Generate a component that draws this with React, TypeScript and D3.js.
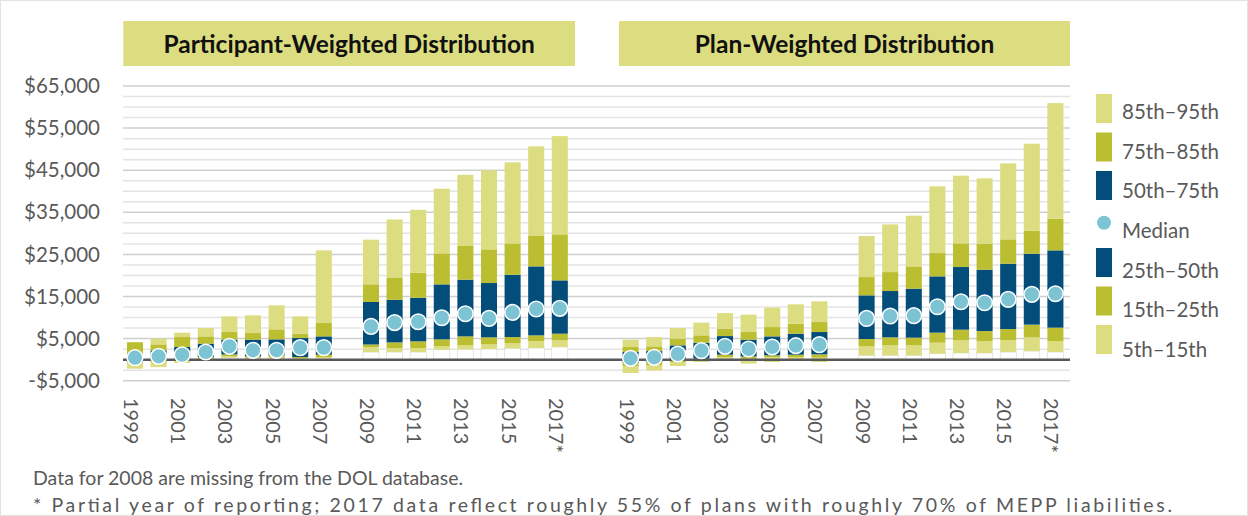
import React from 'react';
import * as d3 from 'd3';

// years shown in each panel (2008 is missing from the DOL database)
const years = ['1999', '2000', '2001', '2002', '2003', '2004', '2005', '2006', '2007', '2008',
  '2009', '2010', '2011', '2012', '2013', '2014', '2015', '2016', '2017'];
const tickYears = ['1999', '2001', '2003', '2005', '2007', '2009', '2011', '2013', '2015', '2017'];

// Participant-weighted percentiles (null = no data)
const partP5 = [-2140, -1760, -800, -50, 470, 240, 240, 140, 300, null, 1800, 1800, 1800, 2370, 2450, 2520, 2680, 2760, 3000];
const partP15 = [-650, -570, -300, 240, 780, 470, 470, 380, 620, null, 3000, 2760, 2760, 3230, 3400, 3630, 3950, 4420, 4580];
const partP25 = [-500, -300, 0, 620, 1260, 780, 1020, 620, 1180, null, 3600, 4100, 4350, 4820, 5530, 5300, 5370, 5770, 6170];
const partP50 = [470, 780, 1180, 1810, 3160, 2210, 2210, 2850, 2850, null, 7900, 8800, 9000, 9950, 10900, 9800, 11230, 12020, 12180];
const partP75 = [1420, 2210, 3000, 3800, 4750, 4750, 4820, 5130, 5530, null, 13700, 14200, 14700, 17880, 19000, 18200, 20170, 22150, 18830];
const partP85 = [4150, 3630, 5370, 5530, 6560, 6320, 7200, 6170, 8700, null, 17900, 19400, 20650, 25250, 27000, 26200, 27600, 29500, 29760];
const partP95 = [4200, 4990, 6410, 7510, 10280, 10520, 12900, 10280, 25960, null, 28500, 33300, 35600, 40600, 43900, 44960, 46860, 50660, 53100];

// Plan-weighted percentiles
const planP5 = [-3180, -2540, -1520, -570, 240, -950, -570, -330, -570, null, 1020, 1020, 1020, 1420, 1580, 1580, 1810, 2040, 1810];
const planP15 = [-1590, -1350, -570, -170, 620, 240, 620, 620, 470, null, 3160, 3400, 3400, 4030, 4580, 4430, 4660, 5300, 4430];
const planP25 = [-800, -570, -170, 240, 1180, 780, 1020, 1180, 1260, null, 4900, 5300, 5220, 6410, 7120, 6800, 7270, 8310, 7600];
const planP50 = [300, 550, 1330, 2140, 3160, 2520, 3000, 3320, 3560, null, 9800, 10360, 10450, 12580, 13770, 13530, 14320, 15510, 15670];
const planP75 = [1810, 2040, 3400, 4030, 5600, 4750, 5530, 6170, 6560, null, 15270, 16300, 16860, 19780, 22000, 21370, 22800, 25170, 25960];
const planP85 = [3000, 3160, 4990, 5770, 7360, 6560, 7740, 8550, 8930, null, 19620, 20800, 22150, 25320, 27620, 27550, 28570, 30640, 33470];
const planP95 = [4750, 5370, 7510, 8790, 11070, 10690, 12350, 13130, 13850, null, 29360, 32130, 34200, 41160, 43700, 43060, 46620, 51300, 60940];

const yTicks = [-5000, 5000, 15000, 25000, 35000, 45000, 55000, 65000];

const LIGHT = '#dcdd80';
const OLIVE = '#bcbe32';
const NAVY = '#034d7b';
const DOT = '#7cc4d4';
const TEXT = '#595959';

const legendItems = [
  { label: '85th–95th', color: LIGHT },
  { label: '75th–85th', color: OLIVE },
  { label: '50th–75th', color: NAVY },
  { label: 'Median', color: DOT },
  { label: '25th–50th', color: NAVY },
  { label: '15th–25th', color: OLIVE },
  { label: '5th–15th', color: LIGHT },
];

const W = 1248;
const H = 516;

const panels = [
  { key: 'P', title: 'Participant-Weighted Distribution', p: [partP5, partP15, partP25, partP50, partP75, partP85, partP95] },
  { key: 'W', title: 'Plan-Weighted Distribution', p: [planP5, planP15, planP25, planP50, planP75, planP85, planP95] },
];

const slots = [...years.map(y => 'P' + y), 'gap1', 'gap2', ...years.map(y => 'W' + y)];

const x = d3.scaleBand<string>()
  .domain(slots)
  .range([123.2, 1067.2])
  .paddingInner(0.32)
  .paddingOuter(0.16);

const y = d3.scaleLinear().domain([-5000, 65000]).range([380.7, 86]);

const gridVals = d3.range(-5000, 65001, 2500);
const fmt = (v: number) => (v < 0 ? '-$' : '$') + d3.format(',')(Math.abs(v));

const segColors = [LIGHT, OLIVE, NAVY, NAVY, OLIVE, LIGHT];

export default function App() {
  const bw = x.bandwidth();
  return (
    <svg width={W} height={H} style={{ position: 'absolute', left: 0, top: 0, fontFamily: 'Lato, "Open Sans", sans-serif' }}>
      <rect x={0.5} y={0.5} width={W - 1} height={H - 1} fill="#fff" stroke="#e3e3e3" />
      {/* grid */}
      {gridVals.map(v => (
        <line key={v} x1={123} x2={1070} y1={y(v)} y2={y(v)}
          stroke={(v - 5000) % 10000 === 0 ? '#cfcfcf' : '#e4e4e4'}
          strokeWidth={v === 0 ? 0 : 1.5} />
      ))}
      {/* y labels */}
      {yTicks.map(v => (
        <text key={v} x={100} y={y(v)} dy="0.35em" textAnchor="end" fontSize={20.5} fill={TEXT}>{fmt(v)}</text>
      ))}
      {/* titles */}
      {panels.map(pn => {
        const x0 = pn.key === 'P' ? 123.3 : 619;
        const x1 = pn.key === 'P' ? 575 : 1070;
        return (
          <g key={pn.title}>
            <rect x={x0} y={21} width={x1 - x0} height={45} fill={LIGHT} />
            <text x={(x0 + x1) / 2} y={44} dy="0.35em" textAnchor="middle" fontSize={24.5} fontWeight="bold" fill="#111">{pn.title}</text>
          </g>
        );
      })}
      {/* bars */}
      {panels.map(pn => years.map((yr, i) => {
        const vals = pn.p.map(a => a[i]);
        if (vals[0] == null) return null;
        const bx = x(pn.key + yr)!;
        const p = vals as number[];
        return (
          <g key={pn.key + yr}>
            {p[0] > 0 && (
              <rect x={bx} y={y(p[0])} width={bw} height={y(0) - y(p[0])} fill="#fff" stroke="#d8d8c8" strokeWidth={0.6} />
            )}
            {segColors.map((c, k) => (
              <rect key={k} x={bx} y={y(p[k + 1])} width={bw} height={Math.max(0, y(p[k]) - y(p[k + 1]))} fill={c} />
            ))}
          </g>
        );
      }))}
      {/* zero line */}
      <line x1={123} x2={1070} y1={y(0)} y2={y(0)} stroke="#595959" strokeWidth={2.5} />
      {/* median dots */}
      {panels.map(pn => years.map((yr, i) => {
        const m = pn.p[3][i];
        if (m == null) return null;
        return (
          <circle key={pn.key + yr} cx={x(pn.key + yr)! + bw / 2} cy={y(m)} r={7.8} fill={DOT} stroke="#fff" strokeWidth={1.5} />
        );
      }))}
      {/* x labels */}
      {panels.map(pn => tickYears.map(yr => {
        const cx = x(pn.key + yr)! + bw / 2 - 4;
        return (
          <text key={pn.key + yr} transform={`translate(${cx},398) rotate(90)`} dy="0.35em" fontSize={20} fill={TEXT}>
            {yr === '2017' ? '2017*' : yr}
          </text>
        );
      }))}
      {/* legend */}
      {legendItems.map((it, i) => {
        const ty = 111.7 + i * 39.7;
        const sy = 94 + i * 38.5;
        return (
          <g key={it.label}>
            {it.label === 'Median'
              ? <circle cx={1104} cy={222.7} r={7} fill={DOT} />
              : <rect x={1096} y={sy} width={16} height={29} fill={it.color} />}
            <text x={1122} y={ty} dy="0.35em" fontSize={20.5} fill={TEXT}>{it.label}</text>
          </g>
        );
      })}
      {/* footnotes */}
      <text x={33} y={478} dy="0.35em" fontSize={19.5} fill={TEXT}>Data for 2008 are missing from the DOL database.</text>
      <text x={33} y={505} dy="0.35em" fontSize={19.5} fill={TEXT} textLength={1139} lengthAdjust="spacing">* Partial year of reporting; 2017 data reflect roughly 55% of plans with roughly 70% of MEPP liabilities.</text>
    </svg>
  );
}
